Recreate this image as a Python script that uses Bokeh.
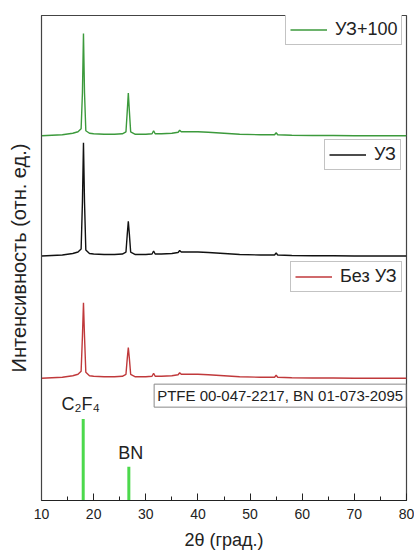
from bokeh.plotting import figure
from bokeh.models import Range1d, SingleIntervalTicker, Legend, LegendItem, Label, FixedTicker
from bokeh.core.properties import value
from bokeh.embed import file_html
from bokeh.resources import INLINE

# 2-theta positions of the sampled scan points
two_theta = [10, 12, 14, 16, 17, 17.6, 17.85, 18.05, 18.25, 18.5, 19.2, 20, 22, 24, 25.5,
             26.2, 26.45, 26.65, 26.85, 27.1, 28, 30, 31.2, 31.5, 31.8, 33, 35, 36.2, 36.5,
             36.8, 38, 40, 42, 45, 48, 52, 54.7, 55, 55.3, 58, 62, 66, 70, 75, 80]

# intensity (arb. units, already stacked)
int_uz100 = [367, 367.5, 368, 369.5, 371, 374, 410, 470, 410, 372, 369.5, 369, 368.5, 368.5, 369,
             371, 392, 410, 392, 371, 368.5, 368.5, 369, 372, 369, 369, 369.5, 370.5, 372.5,
             371, 371, 371, 370.5, 369.5, 368.5, 368, 368, 370, 368, 367.5, 367.3, 367.2, 367, 367, 367]
int_uz = [246, 246.5, 247, 248.5, 250, 253, 300, 360, 300, 252, 248.5, 248, 247.5, 247.5, 248,
          250, 268, 281, 268, 250, 247.5, 247.5, 248, 251, 248, 248, 248.5, 249.5, 251.5,
          250, 250, 250, 249.5, 248.5, 247.5, 247, 247, 249, 247, 246.5, 246.3, 246.2, 246, 246, 246]
int_bez = [123, 123.5, 124, 125.5, 127, 130, 165, 199, 165, 129, 125.5, 125, 124.5, 124.5, 125,
           127, 143, 154, 143, 127, 124.5, 124.5, 125, 128, 125, 125, 125.5, 126.5, 128.5,
           127, 127, 127, 126.5, 125.5, 124.5, 124, 124, 126, 124, 123.5, 123.3, 123.2, 123, 123, 123]

# reference card lines
ref_pos = [18.0, 26.75]
ref_int = [82, 34]
ref_names = ["C\u2082F\u2084", "BN"]
ref_label_x = [17.5, 27.1]
ref_label_y = [97, 48]

series_labels = ["УЗ+100", "УЗ", "Без УЗ"]
x_ticks_interval = 10

FONT = "Liberation Sans"

p = figure(width=414, height=552, output_backend="svg", toolbar_location=None,
           x_range=Range1d(10, 80), y_range=Range1d(0, 488),
           min_border_left=41, min_border_right=8, min_border_top=15, min_border_bottom=49)
p.grid.visible = False
p.background_fill_color = "white"
p.outline_line_color = "#444444"
p.outline_line_width = 1.2

ax = p.xaxis[0]
ax.ticker = SingleIntervalTicker(interval=x_ticks_interval, num_minor_ticks=2)
ax.major_tick_in = 7
ax.major_tick_out = 0
ax.minor_tick_in = 4
ax.minor_tick_out = 0
ax.major_label_text_font = FONT
ax.major_label_text_font_size = "14px"
ax.major_label_text_color = "#222222"
ax.major_label_standoff = 8
ax.axis_label = "2θ (град.)"
ax.axis_label_text_font = FONT
ax.axis_label_text_font_size = "18px"
ax.axis_label_text_font_style = "normal"
ax.axis_label_text_color = "#222222"
ax.axis_label_standoff = 8
ax.axis_line_color = "#222222"
ax.major_tick_line_color = "#222222"
ax.minor_tick_line_color = "#222222"

ay = p.yaxis[0]
ay.ticker = FixedTicker(ticks=[])
ay.axis_label = "Интенсивность (отн. ед.)"
ay.axis_label_text_font = FONT
ay.axis_label_text_font_size = "20px"
ay.axis_label_text_font_style = "normal"
ay.axis_label_text_color = "#222222"
ay.axis_label_standoff = 12
ay.axis_line_color = "#444444"

r_g = p.line(two_theta, int_uz100, line_color="#3c9a3c", line_width=1.4)
r_k = p.line(two_theta, int_uz, line_color="#111111", line_width=1.4)
r_r = p.line(two_theta, int_bez, line_color="#c0393b", line_width=1.4)

p.segment(x0=ref_pos, y0=[0, 0], x1=ref_pos, y1=ref_int, line_color="#4cd94c", line_width=3)

p.text(x=ref_label_x, y=ref_label_y, text=ref_names, text_font=value(FONT),
       text_font_size="18px", text_align="center", text_baseline="middle", text_color="#222222")

lab = Label(x=31.6, y=105.5, text="PTFE 00-047-2217, BN 01-073-2095", text_font=FONT,
            text_font_size="15px", text_baseline="middle", text_align="left", text_color="#222222",
            border_line_color="#888888", border_line_width=1, background_fill_color="white",
            padding=3)
p.add_layout(lab)

def add_legend(label, rend, loc):
    lg = Legend(items=[LegendItem(label=label, renderers=[rend])], location=loc,
                label_text_font=FONT, label_text_font_size="18px", label_text_color="#222222",
                glyph_width=37, glyph_height=17, label_standoff=8, padding=4, margin=0,
                border_line_color="#888888", border_line_width=1, background_fill_alpha=1,
                label_height=17)
    p.add_layout(lg)

add_legend(series_labels[0], r_g, (244, 455))
add_legend(series_labels[1], r_k, (283, 330))
add_legend(series_labels[2], r_r, (249, 208))

open("out.html", "w").write(file_html(p, INLINE))
